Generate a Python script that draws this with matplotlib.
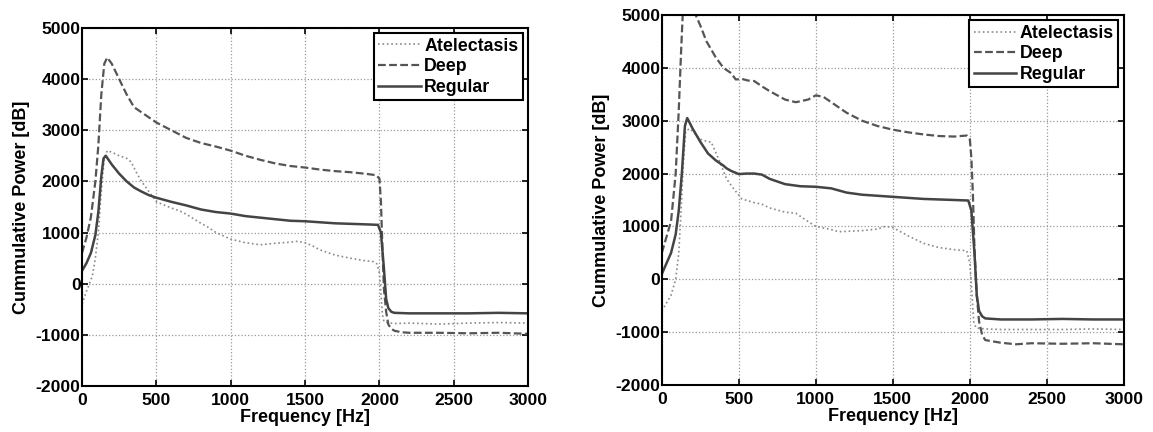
import matplotlib
matplotlib.use("Agg")
import matplotlib.pyplot as plt

plt.rcParams["font.family"] = ["Liberation Sans", "DejaVu Sans"]
plt.rcParams["font.weight"] = "bold"
plt.rcParams["axes.unicode_minus"] = False

# left panel
left_atel_f = [0, 30, 50, 70, 90, 110, 130, 150, 170, 200, 250, 300, 330, 370, 400, 450, 500,
               600, 650, 700, 800, 850, 900, 1000, 1100, 1200, 1300, 1400, 1450, 1500, 1550,
               1600, 1700, 1800, 1900, 1960, 1985, 2000, 2010, 2020, 2030, 2050, 2100, 2200,
               2400, 2600, 2800, 3000]
left_atel_v = [-400, -150, 0, 150, 500, 1000, 1800, 2450, 2600, 2570, 2500, 2450, 2380, 2150,
               2000, 1800, 1600, 1480, 1430, 1360, 1180, 1100, 1000, 870, 800, 760, 790, 810,
               830, 800, 740, 660, 560, 500, 450, 430, 380, 200, -200, -600, -740, -760, -780,
               -770, -790, -770, -760, -770]

left_deep_f = [0, 30, 60, 90, 110, 130, 150, 170, 200, 250, 300, 350, 400, 450, 500, 600, 700,
               800, 900, 1000, 1100, 1200, 1300, 1400, 1500, 1600, 1700, 1800, 1900, 1980, 2000,
               2010, 2020, 2030, 2045, 2060, 2080, 2100, 2150, 2200, 2400, 2600, 2800, 3000]
left_deep_v = [600, 900, 1300, 2000, 2700, 3700, 4300, 4420, 4300, 4000, 3700, 3450, 3350, 3250,
               3150, 3000, 2850, 2750, 2680, 2600, 2500, 2420, 2350, 2300, 2270, 2230, 2200,
               2180, 2150, 2120, 2050, 1600, 700, -100, -550, -800, -880, -920, -950, -960,
               -960, -970, -960, -980]

left_reg_f = [0, 30, 60, 90, 110, 130, 145, 160, 200, 250, 300, 350, 400, 450, 500, 600, 700,
              800, 900, 1000, 1100, 1200, 1300, 1400, 1500, 1600, 1700, 1800, 1900, 1990, 2010,
              2030, 2045, 2060, 2080, 2100, 2200, 2400, 2600, 2800, 3000]
left_reg_v = [250, 400, 600, 950, 1400, 2100, 2450, 2500, 2330, 2150, 2000, 1880, 1800, 1730,
              1680, 1600, 1530, 1450, 1400, 1370, 1320, 1290, 1260, 1230, 1220, 1200, 1180,
              1170, 1160, 1150, 1000, 300, -300, -480, -550, -570, -580, -580, -580, -570, -580]

# right panel
right_atel_f = [0, 30, 60, 90, 110, 125, 140, 155, 180, 200, 250, 300, 320, 350, 380, 420,
                470, 520, 600, 650, 700, 800, 870, 920, 1000, 1100, 1150, 1300, 1400, 1450,
                1500, 1600, 1700, 1800, 1900, 1980, 2000, 2010, 2025, 2040, 2100, 2200, 2400,
                2600, 2800, 3000]
right_atel_v = [-600, -450, -300, 0, 500, 1300, 2200, 2800, 2850, 2800, 2650, 2600, 2600,
                2400, 2200, 1900, 1700, 1520, 1450, 1420, 1350, 1270, 1250, 1150, 1000, 940,
                900, 920, 950, 1000, 980, 820, 680, 600, 560, 540, 300, -100, -800, -920, -940,
                -950, -950, -950, -940, -950]

right_deep_f = [0, 30, 60, 90, 110, 125, 140, 160, 190, 220, 250, 290, 350, 400, 450, 480, 520,
                560, 600, 650, 700, 800, 870, 950, 1000, 1050, 1100, 1200, 1300, 1400, 1500,
                1600, 1700, 1800, 1900, 1980, 2000, 2010, 2020, 2030, 2045, 2060, 2080, 2100,
                2200, 2300, 2400, 2600, 2800, 3000]
right_deep_v = [500, 800, 1100, 2000, 3200, 4300, 5300, 5700, 5400, 5000, 4800, 4500, 4200,
                4000, 3900, 3780, 3790, 3760, 3750, 3650, 3560, 3400, 3350, 3400, 3480, 3450,
                3350, 3150, 3000, 2900, 2830, 2780, 2740, 2710, 2700, 2720, 2650, 2300, 1600,
                600, -300, -800, -1050, -1150, -1200, -1230, -1210, -1220, -1210, -1230]

right_reg_f = [0, 30, 60, 90, 110, 130, 150, 165, 200, 250, 300, 350, 400, 420, 450, 500, 550,
               600, 650, 700, 800, 900, 1000, 1100, 1200, 1300, 1400, 1500, 1600, 1700, 1800,
               1900, 1990, 2010, 2030, 2045, 2060, 2080, 2100, 2200, 2400, 2600, 2800, 3000]
right_reg_v = [100, 300, 500, 850, 1300, 2000, 2900, 3050, 2850, 2600, 2380, 2250, 2150, 2100,
               2050, 1990, 2000, 2000, 1980, 1900, 1800, 1760, 1750, 1720, 1640, 1600, 1580,
               1560, 1540, 1520, 1510, 1500, 1490, 1300, 500, -300, -600, -700, -740, -760,
               -760, -750, -760, -760]

fig = plt.figure(figsize=(11.53, 4.32), dpi=100)
ax_l = fig.add_axes([0.0711, 0.1065, 0.387, 0.829])
ax_r = fig.add_axes([0.574, 0.1088, 0.4007, 0.8565])

panels = [
    (ax_l, left_atel_f, left_atel_v, left_deep_f, left_deep_v, left_reg_f, left_reg_v),
    (ax_r, right_atel_f, right_atel_v, right_deep_f, right_deep_v, right_reg_f, right_reg_v),
]

for ax, af, av, df, dv, rf, rv in panels:
    ax.plot(af, av, linestyle=":", color="#8a8a8a", linewidth=1.2, label="Atelectasis")
    ax.plot(df, dv, linestyle=(0, (3.5, 1.5)), color="#555555", linewidth=1.6, label="Deep")
    ax.plot(rf, rv, linestyle="-", color="#444444", linewidth=1.8, label="Regular")
    ax.set_xlim(0, 3000)
    ax.set_ylim(-2000, 5000)
    ax.set_xticks(range(0, 3001, 500))
    ax.set_yticks(range(-2000, 5001, 1000))
    ax.grid(True, linestyle=":", color="#999999", linewidth=0.9)
    ax.tick_params(direction="in", top=True, right=True, labelsize=12.6, width=1.2, length=4)
    ax.tick_params(axis="x", pad=5)
    ax.tick_params(axis="y", pad=1)
    for lbl in ax.get_xticklabels() + ax.get_yticklabels():
        lbl.set_fontweight("bold")
    for s in ax.spines.values():
        s.set_linewidth(1.5)
    ax.set_xlabel("Frequency [Hz]", fontsize=13, fontweight="bold", labelpad=1)
    ax.set_ylabel("Cummulative Power [dB]", fontsize=13, fontweight="bold", labelpad=4)
    leg = ax.legend(loc="upper right", fontsize=12.8, fancybox=False, framealpha=1,
                    edgecolor="black", handlelength=2.4, handletextpad=0.2,
                    borderpad=0.25, labelspacing=0.2, borderaxespad=0.3)
    leg.get_frame().set_linewidth(1.5)
    for t in leg.get_texts():
        t.set_fontweight("bold")

fig.savefig("out.png", dpi=100)
